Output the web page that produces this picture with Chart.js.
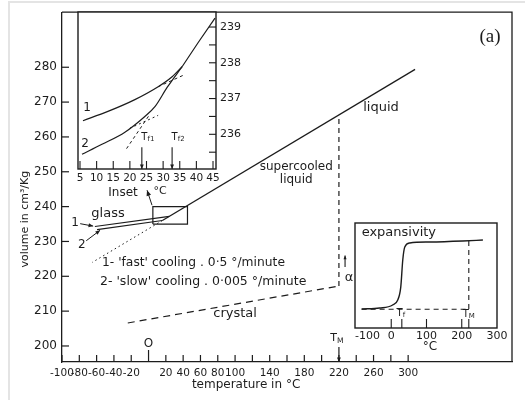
<!DOCTYPE html>
<html><head><meta charset="utf-8">
<script src="https://cdn.jsdelivr.net/npm/chart.js@4.4.0/dist/chart.umd.min.js"></script>
<style>
html,body{margin:0;padding:0;background:#fff;}
#wrap{position:relative;width:525px;height:400px;overflow:hidden;background:#fff;}
#wrap canvas{position:absolute;left:0;top:0;}
#frame{position:absolute;left:8px;top:1px;width:530px;height:410px;border-left:2px solid #e4e4e4;border-top:2px solid #e4e4e4;}
</style></head>
<body><div id="wrap"><div id="frame"></div>
<canvas id="main" width="525" height="400"></canvas>
<canvas id="inset" width="525" height="400"></canvas>
<canvas id="expa" width="525" height="400"></canvas>
</div>
<script>
// ---------- main chart data ----------
const xTickValues = [-100,-80,-60,-40,-20,0,20,40,60,80,100,120,140,160,180,200,220,240,260,280,300];
const xTickLabels = ['-100','-80','-60','-40','-20','','20','40','60','80','100','','140','','180','','220','','260','','300'];
const yTickValues = [200,210,220,230,240,250,260,270,280];
const liquidX = [16, 308];           const liquidY = [236.0, 279.4];
const glass1X = [-62, 24];           const glass1Y = [234.3, 237.2];
const glass2X = [-59.5, 16];         const glass2Y = [233.4, 236.0];
const supercooledExtX = [16, -65];   const supercooledExtY = [236.0, 224.0];
const crystalX = [-24, 220];         const crystalY = [206.6, 217.2];
const meltX = [220, 220];            const meltY = [217.2, 266.3];
const insetBoxX = [5, 45, 45, 5, 5]; const insetBoxY = [235, 235, 240, 240, 235];
const meltT = 220;

// ---------- upper-left inset data ----------
const insetXTicks = [5,10,15,20,25,30,35,40,45];
const insetYTicks = [235.5,236,236.5,237,237.5,238,238.5,239];
const curve1X = [5.9, 13.4, 21.5, 28.5, 32.7, 35.7];
const curve1Y = [236.38, 236.64, 236.97, 237.33, 237.61, 237.89];
const curve2X = [5.6, 11.6, 18.5, 24.5, 27.6, 31.2, 35.7];
const curve2Y = [235.44, 235.72, 236.06, 236.5, 236.78, 237.31, 237.89];
const insetLiquidX = [35.7, 40.5, 45.6];  const insetLiquidY = [237.89, 238.56, 239.25];
const liquidExtX = [19, 26];         const liquidExtY = [235.6, 236.56];
const glass1ExtX = [28.5, 36.5];     const glass1ExtY = [237.33, 237.67];
const glass2ExtX = [20, 28.5];       const glass2ExtY = [236.17, 236.53];
const tf1 = 23.6, tf2 = 32.7;

// ---------- expansivity inset data ----------
const expXLabels = [-100, 0, 100, 200, 300];
const expX = [-84, -33, 4, 18.5, 27, 32.7, 38.4, 52.6, 109, 203, 260];
const expY = [0.181, 0.19, 0.219, 0.267, 0.39, 0.648, 0.771, 0.81, 0.819, 0.829, 0.838];
const expBaseX = [-84, 220];         const expBaseY = [0.178, 0.178];
const expTmX = [220, 220];           const expTmY = [0.829, 0.178];
const expTf = 30, expTm = 220;
const expTickMarks = [0, expTf, 100, 200, expTm];

// ---------- helpers ----------
const FONT = "'DejaVu Sans', 'Liberation Sans', sans-serif";
const INK = '#1c1c1c';
function series(xs, ys, extra) {
  return Object.assign({data: xs.map((x, i) => ({x: x, y: ys[i]})), showLine: true, pointRadius: 0,
    borderColor: INK, borderWidth: 1.3, fill: false, tension: 0}, extra || {});
}
function txt(ctx, s, x, y, size, align, maxW, family) {
  ctx.font = size + 'px ' + (family || FONT);
  ctx.textAlign = align || 'center';
  ctx.textBaseline = 'middle';
  if (maxW) ctx.fillText(s, x, y, maxW); else ctx.fillText(s, x, y);
}
function subTxt(ctx, main, sub, x, y, size) {
  ctx.textBaseline = 'middle'; ctx.textAlign = 'left';
  ctx.font = size + 'px ' + FONT; const w1 = ctx.measureText(main).width;
  ctx.font = (size * 0.7) + 'px ' + FONT; const w2 = ctx.measureText(sub).width;
  const x0 = x - (w1 + w2) / 2;
  ctx.font = size + 'px ' + FONT; ctx.fillText(main, x0, y);
  ctx.font = (size * 0.7) + 'px ' + FONT; ctx.fillText(sub, x0 + w1, y + size * 0.25);
}
function arrow(ctx, x1, y1, x2, y2, hs) {
  ctx.beginPath(); ctx.moveTo(x1, y1); ctx.lineTo(x2, y2); ctx.stroke();
  const a = Math.atan2(y2 - y1, x2 - x1); hs = hs || 5;
  ctx.beginPath(); ctx.moveTo(x2, y2);
  ctx.lineTo(x2 - hs * Math.cos(a - 0.4), y2 - hs * Math.sin(a - 0.4));
  ctx.lineTo(x2 - hs * Math.cos(a + 0.4), y2 - hs * Math.sin(a + 0.4));
  ctx.closePath(); ctx.fill();
}
const baseOpts = {responsive: false, animation: false, events: [], devicePixelRatio: 1,
  plugins: {legend: {display: false}, tooltip: {enabled: false}}};

// ---------- main chart ----------
const mainNotes = [
  {t: '(a)', x: 394.6, y: 288.6, size: 19, family: "'Liberation Serif', serif"},
  {t: 'liquid', x: 268.6, y: 268.5, size: 13},
  {t: 'supercooled', x: 170.7, y: 251.3, size: 12},
  {t: 'liquid', x: 170.7, y: 247.6, size: 12},
  {t: 'glass', x: -46.8, y: 238.1, size: 13},
  {t: '1', x: -85, y: 235.2, size: 12},
  {t: '2', x: -77, y: 229.0, size: 12},
  {t: "1- 'fast' cooling . 0·5 °/minute", x: -53.8, y: 223.8, size: 12.5, align: 'left', maxW: 183},
  {t: "2- 'slow' cooling . 0·005 °/minute", x: -56.1, y: 218.4, size: 12.5, align: 'left', maxW: 207},
  {t: 'crystal', x: 100, y: 209.2, size: 13},
  {t: 'Inset', x: -29.5, y: 243.9, size: 12},
  {t: '°C', x: 13.3, y: 244.4, size: 11},
  {t: 'O', x: 0, y: 200.5, size: 12},
  {t: '°C', x: 325.3, y: 199.7, size: 12}
];
const mainDecor = {
  id: 'mainDecor',
  afterDatasetsDraw(chart) {
    const {ctx, chartArea: a, scales: {x, y}} = chart;
    ctx.save();
    ctx.strokeStyle = INK; ctx.fillStyle = INK; ctx.lineWidth = 1.3;
    ctx.beginPath(); ctx.moveTo(a.left, a.top); ctx.lineTo(a.right, a.top); ctx.lineTo(a.right, a.bottom); ctx.stroke();
    ctx.lineWidth = 1.2;
    xTickValues.forEach(v => {
      const px = x.getPixelForValue(v);
      const len = v === 0 ? 12 : 7;
      ctx.beginPath(); ctx.moveTo(px, a.bottom); ctx.lineTo(px, a.bottom - len); ctx.stroke();
    });
    yTickValues.forEach(v => {
      const py = y.getPixelForValue(v);
      ctx.beginPath(); ctx.moveTo(a.left, py); ctx.lineTo(a.left + 7, py); ctx.stroke();
    });
    // Tm arrow on axis
    arrow(ctx, x.getPixelForValue(meltT), y.getPixelForValue(199.7), x.getPixelForValue(meltT), a.bottom, 5);
    subTxt(ctx, 'T', 'M', x.getPixelForValue(meltT) - 2, y.getPixelForValue(202.2), 11);
    // label arrows
    ctx.lineWidth = 1;
    arrow(ctx, x.getPixelForValue(-79), y.getPixelForValue(235.1), x.getPixelForValue(-64), y.getPixelForValue(234.4), 5);
    arrow(ctx, x.getPixelForValue(-72), y.getPixelForValue(230.2), x.getPixelForValue(-56), y.getPixelForValue(233.2), 5);
    arrow(ctx, x.getPixelForValue(4), y.getPixelForValue(240.4), x.getPixelForValue(-1.7), y.getPixelForValue(244.7), 6);
    mainNotes.forEach(n => txt(ctx, n.t, x.getPixelForValue(n.x), y.getPixelForValue(n.y), n.size, n.align, n.maxW, n.family));
    // axis titles
    txt(ctx, 'temperature in °C', x.getPixelForValue(112.7), a.bottom + 23, 12);
    ctx.save();
    ctx.translate(a.left - 37, y.getPixelForValue(236.4));
    ctx.rotate(-Math.PI / 2);
    txt(ctx, 'volume in cm³/Kg', 0, 0, 11);
    ctx.restore();
    ctx.restore();
  }
};
new Chart(document.getElementById('main'), {
  type: 'scatter',
  data: {datasets: [
    series(liquidX, liquidY),
    series(glass1X, glass1Y, {borderWidth: 1.1}),
    series(glass2X, glass2Y, {borderWidth: 1.1}),
    series(supercooledExtX, supercooledExtY, {borderWidth: 1, borderDash: [1.5, 3]}),
    series(crystalX, crystalY, {borderWidth: 1.2, borderDash: [7, 5]}),
    series(meltX, meltY, {borderWidth: 1.2, borderDash: [5, 4]}),
    series(insetBoxX, insetBoxY, {borderWidth: 1.2})
  ]},
  options: Object.assign({}, baseOpts, {
    layout: {padding: {left: 0, top: 12, right: 13, bottom: 0}},
    scales: {
      x: {type: 'linear', min: -100, max: 420,
        grid: {display: false, drawTicks: false}, border: {display: true, color: INK, width: 1.3},
        afterBuildTicks: s => { s.ticks = xTickValues.map(v => ({value: v})); },
        ticks: {autoSkip: false, maxRotation: 0, minRotation: 0, padding: 5, color: INK,
          font: {family: FONT, size: 10.5}, callback: (v, i) => xTickLabels[i]},
        afterFit: s => { s.height = 38; }},
      y: {type: 'linear', min: 195.4, max: 295.8,
        grid: {display: false, drawTicks: false}, border: {display: true, color: INK, width: 1.3},
        afterBuildTicks: s => { s.ticks = yTickValues.map(v => ({value: v})); },
        ticks: {padding: 5, color: INK, font: {family: FONT, size: 12}, callback: v => String(v)},
        afterFit: s => { s.width = 62; }}
    }
  }),
  plugins: [mainDecor]
});

// ---------- upper-left inset ----------
const insetDecor = {
  id: 'insetDecor',
  beforeDraw(chart) {
    const {ctx, chartArea: a} = chart;
    ctx.save(); ctx.fillStyle = '#fff'; ctx.fillRect(a.left, a.top, a.right - a.left, a.bottom - a.top); ctx.restore();
  },
  afterDraw(chart) {
    const {ctx, chartArea: a, scales: {x, y}} = chart;
    ctx.save();
    ctx.strokeStyle = INK; ctx.fillStyle = INK; ctx.lineWidth = 1.4;
    ctx.strokeRect(a.left, a.top, a.right - a.left, a.bottom - a.top);
    ctx.lineWidth = 1.1;
    insetXTicks.forEach(v => {
      const px = x.getPixelForValue(v);
      ctx.beginPath(); ctx.moveTo(px, a.bottom); ctx.lineTo(px, a.bottom - 8); ctx.stroke();
    });
    insetYTicks.forEach(v => {
      const py = y.getPixelForValue(v);
      ctx.beginPath(); ctx.moveTo(a.right, py); ctx.lineTo(a.right - 7, py); ctx.stroke();
    });
    [tf1, tf2].forEach((t, i) => {
      const px = x.getPixelForValue(t);
      arrow(ctx, px, y.getPixelForValue(235.64), px, a.bottom, 5);
      subTxt(ctx, 'T', 'f' + (i + 1), px + 6, y.getPixelForValue(235.92), 10);
    });
    txt(ctx, '1', x.getPixelForValue(7.1), y.getPixelForValue(236.75), 12);
    txt(ctx, '2', x.getPixelForValue(6.5), y.getPixelForValue(235.72), 12);
    ctx.restore();
  }
};
new Chart(document.getElementById('inset'), {
  type: 'scatter',
  data: {datasets: [
    series(curve1X, curve1Y, {cubicInterpolationMode: 'monotone', borderWidth: 1.2}),
    series(curve2X, curve2Y, {cubicInterpolationMode: 'monotone', borderWidth: 1.2}),
    series(insetLiquidX, insetLiquidY, {borderWidth: 1.2}),
    series(liquidExtX, liquidExtY, {borderWidth: 1, borderDash: [3, 3]}),
    series(glass1ExtX, glass1ExtY, {borderWidth: 1, borderDash: [3, 3]}),
    series(glass2ExtX, glass2ExtY, {borderWidth: 1, borderDash: [2, 3]})
  ]},
  options: Object.assign({}, baseOpts, {
    layout: {padding: {left: 78, top: 12, right: 279, bottom: 211}},
    scales: {
      x: {type: 'linear', min: 4.4, max: 45.9,
        grid: {display: false, drawTicks: false}, border: {display: false},
        afterBuildTicks: s => { s.ticks = insetXTicks.map(v => ({value: v})); },
        ticks: {autoSkip: false, maxRotation: 0, minRotation: 0, padding: 3, color: INK,
          font: {family: FONT, size: 10.5}, callback: v => String(v)},
        afterFit: s => { s.height = 20; }},
      y: {type: 'linear', position: 'right', min: 235.03, max: 239.42,
        grid: {display: false, drawTicks: false}, border: {display: false},
        afterBuildTicks: s => { s.ticks = insetYTicks.map(v => ({value: v})); },
        ticks: {autoSkip: false, padding: 4, color: INK, font: {family: FONT, size: 11},
          callback: v => Number.isInteger(v) ? String(v) : ''},
        afterFit: s => { s.width = 30; }}
    }
  }),
  plugins: [insetDecor]
});

// ---------- expansivity inset ----------
const expDecor = {
  id: 'expDecor',
  beforeDraw(chart) {
    const {ctx, chartArea: a} = chart;
    ctx.save(); ctx.fillStyle = '#fff'; ctx.fillRect(a.left, a.top, a.right - a.left, a.bottom - a.top); ctx.restore();
  },
  afterDraw(chart) {
    const {ctx, chartArea: a, scales: {x, y}} = chart;
    ctx.save();
    ctx.strokeStyle = INK; ctx.fillStyle = INK; ctx.lineWidth = 1.4;
    ctx.strokeRect(a.left, a.top, a.right - a.left, a.bottom - a.top);
    ctx.lineWidth = 1.1;
    expTickMarks.forEach(v => {
      const px = x.getPixelForValue(v);
      ctx.beginPath(); ctx.moveTo(px, a.bottom); ctx.lineTo(px, a.bottom - 9); ctx.stroke();
    });
    txt(ctx, 'expansivity', x.getPixelForValue(-84), y.getPixelForValue(0.905), 13, 'left');
    subTxt(ctx, 'T', 'f', x.getPixelForValue(expTf) - 1, y.getPixelForValue(0.143), 10);
    subTxt(ctx, 'T', 'M', x.getPixelForValue(expTm), y.getPixelForValue(0.133), 10);
    txt(ctx, '-100', x.getPixelForValue(-102.8), a.bottom + 8, 11, 'left');
    // alpha with up arrow, left of the frame
    arrow(ctx, x.getPixelForValue(-131), y.getPixelForValue(0.58), x.getPixelForValue(-131), y.getPixelForValue(0.69), 4);
    txt(ctx, 'α', x.getPixelForValue(-119.7), y.getPixelForValue(0.476), 13);
    ctx.restore();
  }
};
new Chart(document.getElementById('expa'), {
  type: 'scatter',
  data: {datasets: [
    series(expX, expY, {cubicInterpolationMode: 'monotone', borderWidth: 1.4}),
    series(expBaseX, expBaseY, {borderWidth: 1.1, borderDash: [5, 4]}),
    series(expTmX, expTmY, {borderWidth: 1.1, borderDash: [5, 4]})
  ]},
  options: Object.assign({}, baseOpts, {
    layout: {padding: {left: 355, top: 223, right: 28, bottom: 52}},
    scales: {
      x: {type: 'linear', min: -102.8, max: 300,
        grid: {display: false, drawTicks: false}, border: {display: false},
        afterBuildTicks: s => { s.ticks = expXLabels.map(v => ({value: v})); },
        ticks: {autoSkip: false, maxRotation: 0, minRotation: 0, padding: 2, color: INK,
          font: {family: FONT, size: 11}, callback: v => v === -100 ? '' : String(v)},
        afterFit: s => { s.height = 20; }},
      y: {type: 'linear', display: false, min: 0, max: 1}
    }
  }),
  plugins: [expDecor]
});
</script>
</body></html>
